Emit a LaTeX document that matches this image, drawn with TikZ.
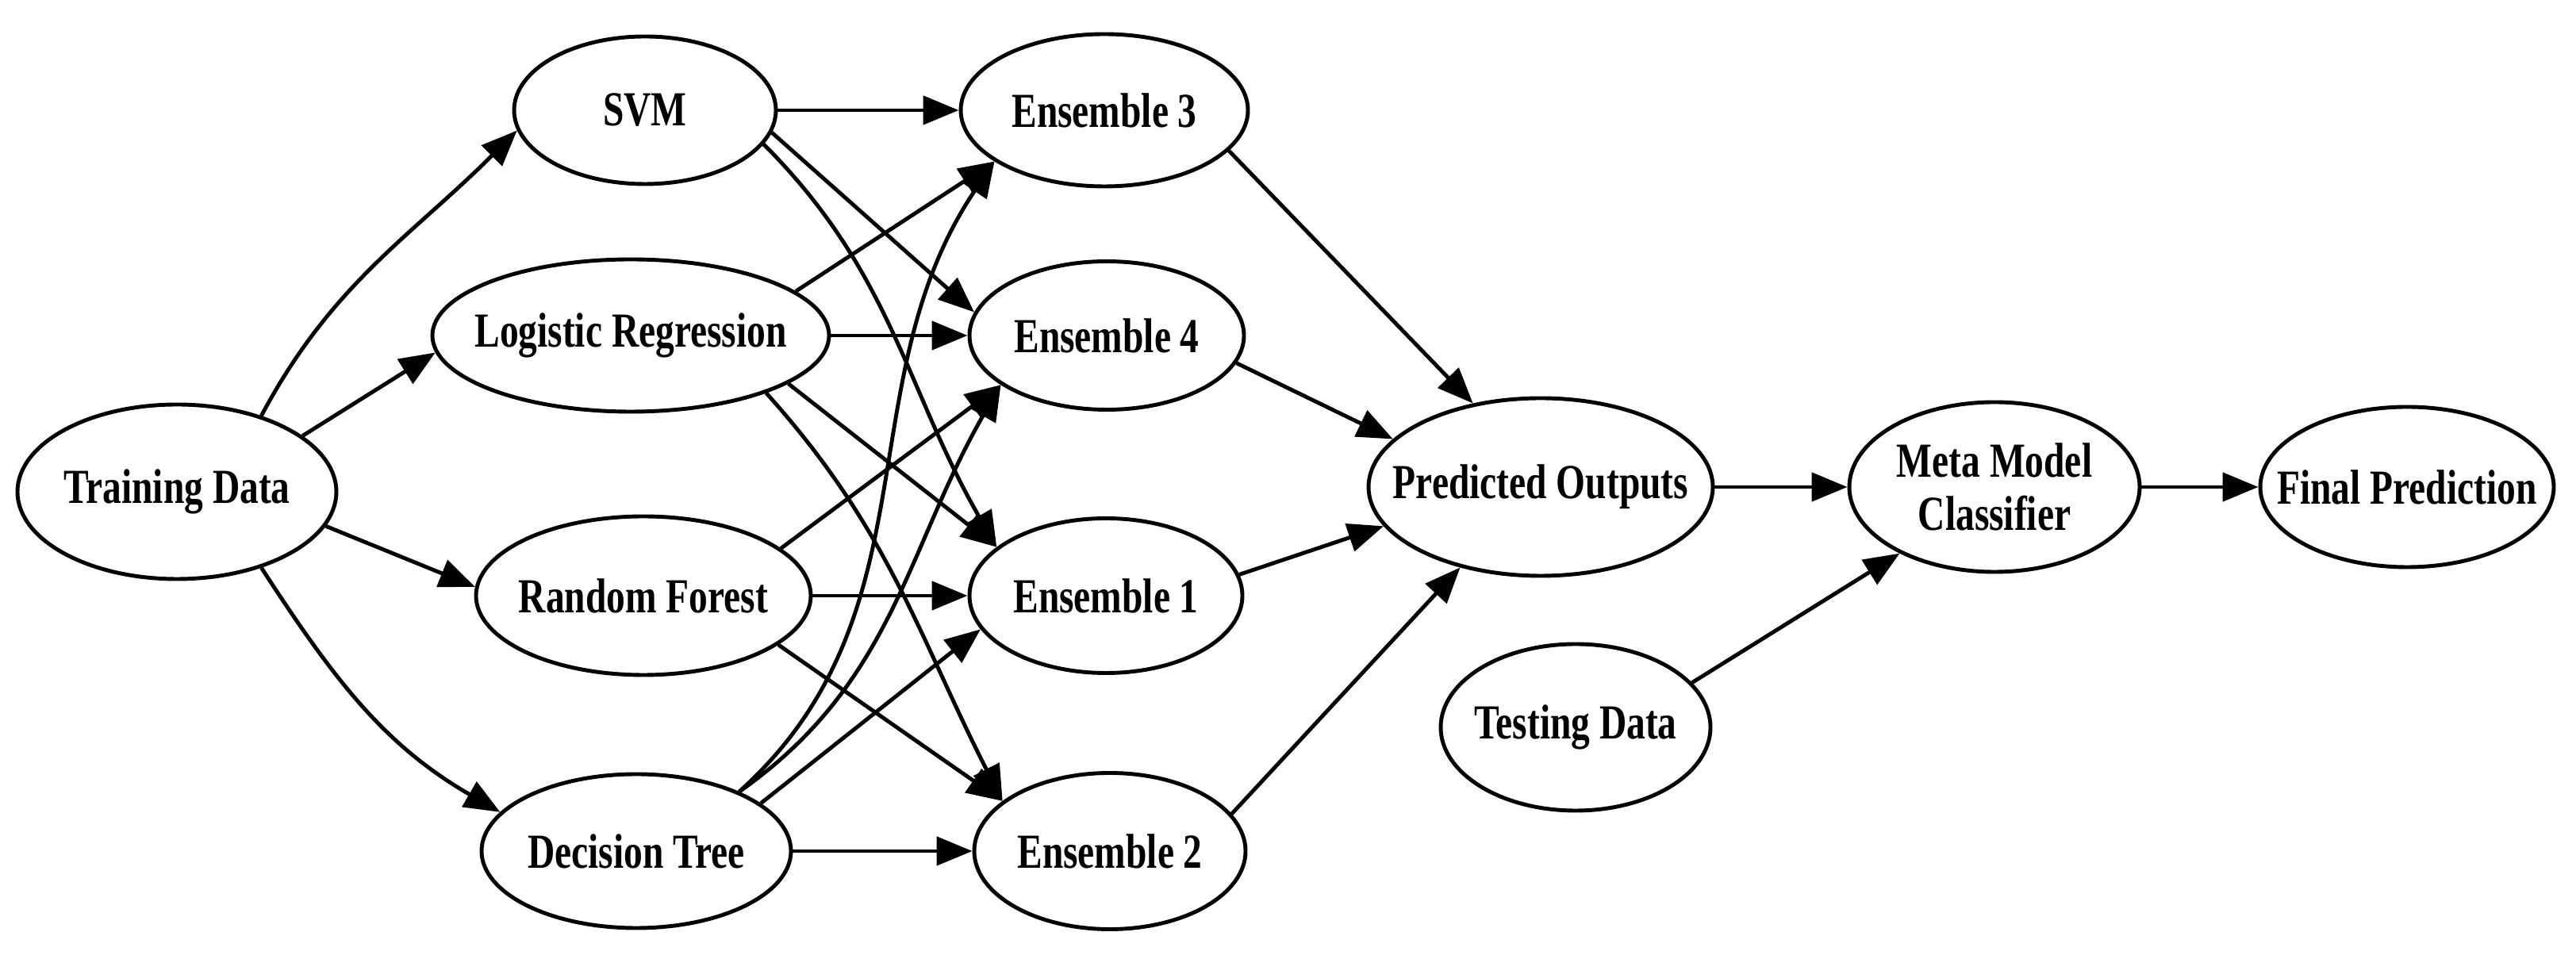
\documentclass[tikz,border=0pt]{standalone}
\usepackage{fontspec}
\setmainfont{Liberation Serif}
\usepackage{xcolor}
\usepackage{tikz}
\usetikzlibrary{shapes.geometric}
\usetikzlibrary{arrows.meta}

\newcommand{\ovaltext}[1]{\makebox[0pt]{\scalebox{1}[1.3]{#1}}}

\begin{document}
\begin{tikzpicture}[
        oval/.style={ellipse, draw=black, line width=1.4pt, inner sep=0pt, font=\bfseries\fontsize{13.5}{19}\selectfont, align=center},
        link/.style={-{Triangle[length=4.5mm,width=3.6mm]}, line width=1.4pt}
    ]
    \useasboundingbox (0,0) rectangle (32.47,12.04);

    \node[oval, minimum width=4.02cm, minimum height=2.20cm] (0_1) at (2.23,5.84) {\ovaltext{Training Data}};

    \node[oval, minimum width=3.30cm, minimum height=1.86cm] (1_1) at (8.13,10.65) {\ovaltext{SVM}};
    \node[oval, minimum width=5.00cm, minimum height=1.92cm] (1_2) at (7.95,7.81) {\ovaltext{Logistic Regression}};
    \node[oval, minimum width=4.22cm, minimum height=2.00cm] (1_3) at (8.11,4.53) {\ovaltext{Random Forest}};
    \node[oval, minimum width=3.90cm, minimum height=1.94cm] (1_4) at (8.02,1.31) {\ovaltext{Decision Tree}};

    \node[oval, minimum width=3.62cm, minimum height=1.92cm] (2_1) at (13.92,10.65) {\ovaltext{Ensemble 3}};
    \node[oval, minimum width=3.46cm, minimum height=1.87cm] (2_2) at (13.95,7.81) {\ovaltext{Ensemble 4}};
    \node[oval, minimum width=3.44cm, minimum height=1.95cm] (2_3) at (13.94,4.53) {\ovaltext{Ensemble 1}};
    \node[oval, minimum width=3.42cm, minimum height=1.97cm] (2_4) at (13.99,1.31) {\ovaltext{Ensemble 2}};

    \node[oval, minimum width=4.34cm, minimum height=2.24cm] (3_1) at (19.42,5.90) {\ovaltext{Predicted Outputs}};
    \node[oval, minimum width=3.40cm, minimum height=2.10cm] (3_2) at (19.86,2.87) {\ovaltext{Testing Data}};
    \node[oval, minimum width=3.66cm, minimum height=2.14cm] (4_1) at (25.14,5.90) {\ovaltext{Meta Model}\\\ovaltext{Classifier}};
    \node[oval, minimum width=3.70cm, minimum height=2.02cm] (5_1) at (30.34,5.90) {\ovaltext{Final Prediction}};

    \draw[link] (0_1.42) to[out=62,in=-135] (1_1.-171);
    \draw[link] (0_1.24) to (1_2.185);
    \draw[link] (0_1.-13) to (1_3.177);
    \draw[link] (0_1.-42) to[out=-57,in=150] (1_4.164);

    \draw[link] (1_1.east) to (2_1.west);
    \draw[link] (1_1.-10) to (2_2.170);
    \draw[link] (1_1.-16) to[out=-45,in=120] (2_3.156);

    \draw[link] (1_2.15) to (2_1.205);
    \draw[link] (1_2.east) to (2_2.west);
    \draw[link] (1_2.-17) to (2_3.156);
    \draw[link] (1_2.-23) to[out=-48,in=117] (2_4.155);

    \draw[link] (1_3.19) to (2_2.205);
    \draw[link] (1_3.east) to (2_3.west);
    \draw[link] (1_3.-20) to (2_4.155);

    \draw[link] (1_4.30) to[out=42,in=236] (2_1.205);
    \draw[link] (1_4.30) to[out=35,in=240] (2_2.205);
    \draw[link] (1_4.21) to (2_3.195);
    \draw[link] (1_4.east) to (2_4.west);

    \draw[link] (2_1.-18) to (3_1.129);
    \draw[link] (2_2.-12) to (3_1.162);
    \draw[link] (2_3.9) to (3_1.194);
    \draw[link] (2_4.17) to (3_1.225);

    \draw[link] (3_1.east) to (4_1.west);
    \draw[link] (3_2.21) to (4_1.215);
    \draw[link] (4_1.east) to (5_1.west);
\end{tikzpicture}
\end{document}
